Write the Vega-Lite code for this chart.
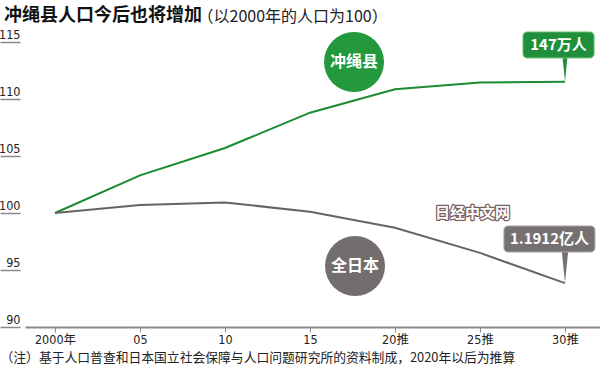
{
  "$schema": "https://vega.github.io/schema/vega-lite/v6.json",
  "width": 575,
  "height": 285,
  "autosize": "none",
  "padding": {"left": 25, "top": 42, "right": 0, "bottom": 41},
  "background": "white",
  "title": {
    "text": "冲绳县人口今后也将增加",
    "anchor": "start",
    "frame": "group",
    "font": "Noto Sans CJK SC",
    "fontSize": 18,
    "fontWeight": "bold",
    "color": "#111111",
    "dx": -21,
    "offset": 0,
    "dy": 31,
    "baseline": "alphabetic"
  },
  "config": {
    "view": {"stroke": null},
    "font": "Noto Sans CJK SC"
  },
  "datasets": {
    "pop": [
      {"year": 2000, "series": "冲绳县", "v": 100},
      {"year": 2005, "series": "冲绳县", "v": 103.3},
      {"year": 2010, "series": "冲绳县", "v": 105.7},
      {"year": 2015, "series": "冲绳县", "v": 108.8},
      {"year": 2020, "series": "冲绳县", "v": 110.85},
      {"year": 2025, "series": "冲绳县", "v": 111.45},
      {"year": 2030, "series": "冲绳县", "v": 111.52},
      {"year": 2000, "series": "全日本", "v": 100},
      {"year": 2005, "series": "全日本", "v": 100.7},
      {"year": 2010, "series": "全日本", "v": 100.93},
      {"year": 2015, "series": "全日本", "v": 100.1},
      {"year": 2020, "series": "全日本", "v": 98.7},
      {"year": 2025, "series": "全日本", "v": 96.5},
      {"year": 2030, "series": "全日本", "v": 93.85}
    ],
    "badges": [
      {"series": "冲绳县", "x": 2017.59, "y": 113.25, "label": "冲绳县"},
      {"series": "全日本", "x": 2017.65, "y": 95.35, "label": "全日本"}
    ],
    "callouts": [
      {"series": "冲绳县", "x1": 2027.53, "x2": 2031.71, "y1": 115.88, "y2": 113.6, "tx": 2029.62, "ty": 114.74, "label": "147万人"},
      {"series": "全日本", "x1": 2026.41, "x2": 2031.76, "y1": 98.86, "y2": 96.58, "tx": 2029.09, "ty": 97.72, "label": "1.1912亿人"}
    ],
    "mark": [
      {"x": 2024.56, "y": 100, "label": "日经中文网"}
    ]
  },
  "encoding": {
    "x": {
      "type": "quantitative",
      "scale": {"domain": [1998.235, 2032.06], "nice": false, "zero": false}
    },
    "y": {
      "type": "quantitative",
      "scale": {"domain": [90, 115], "nice": false, "zero": false}
    }
  },
  "layer": [
    {
      "mark": {"type": "rule", "color": "#8a8a8a", "strokeWidth": 1.5},
      "encoding": {"y": {"datum": 100}}
    },
    {
      "data": {"name": "pop"},
      "mark": {"type": "line", "strokeWidth": 2, "clip": false},
      "encoding": {
        "x": {
          "field": "year",
          "type": "quantitative",
          "axis": {
            "values": [2000, 2005, 2010, 2015, 2020, 2025, 2030],
            "labelExpr": "datum.value == 2000 ? '2000年' : (datum.value == 2005 ? '05' : (datum.value >= 2020 ? (datum.value - 2000) + '推' : '' + (datum.value - 2000)))",
            "grid": false,
            "domainColor": "#8a8a8a",
            "domainWidth": 2,
            "tickColor": "#8a8a8a",
            "tickWidth": 1,
            "tickSize": 5,
            "labelFont": "DejaVu Sans Condensed, Noto Sans CJK SC",
            "labelFontSize": 12.5,
            "labelColor": "#222222",
            "labelPadding": 1,
            "title": "（注）基于人口普查和日本国立社会保障与人口问题研究所的资料制成，2020年以后为推算",
            "titleFont": "Noto Sans CJK SC",
            "titleFontSize": 12.8,
            "titleFontWeight": "normal",
            "titleColor": "#222222",
            "titleAnchor": "start",
            "titleAlign": "left",
            "titleBaseline": "middle",
            "titleX": -25,
            "titleY": 30
          }
        },
        "y": {
          "field": "v",
          "type": "quantitative",
          "axis": {
            "values": [90, 95, 100, 105, 110, 115],
            "grid": false,
            "domain": false,
            "offset": 5,
            "tickColor": "#8a8a8a",
            "tickWidth": 1.5,
            "tickSize": 20,
            "labelAlign": "right",
            "labelBaseline": "bottom",
            "labelPadding": -20,
            "labelOffset": -1,
            "labelFont": "DejaVu Sans Condensed, Noto Sans CJK SC",
            "labelFontSize": 12.5,
            "labelColor": "#222222",
            "title": "（以2000年的人口为100）",
            "titleAngle": 0,
            "titleAlign": "left",
            "titleBaseline": "middle",
            "titleFont": "Noto Sans CJK SC",
            "titleFontSize": 16,
            "titleFontWeight": "normal",
            "titleColor": "#222222",
            "titleX": 177,
            "titleY": -26
          }
        },
        "color": {
          "field": "series",
          "type": "nominal",
          "scale": {"domain": ["冲绳县", "全日本"], "range": ["#1b8a30", "#676363"]},
          "legend": null
        }
      }
    },
    {
      "data": {"name": "badges"},
      "mark": {"type": "point", "shape": "circle", "filled": true, "opacity": 1, "size": 3600, "clip": false},
      "encoding": {
        "x": {"field": "x", "type": "quantitative"},
        "y": {"field": "y", "type": "quantitative"},
        "color": {
          "field": "series",
          "type": "nominal",
          "scale": {"domain": ["冲绳县", "全日本"], "range": ["#23983c", "#736e6d"]},
          "legend": null
        }
      }
    },
    {
      "data": {"name": "badges"},
      "mark": {"type": "text", "color": "white", "font": "Noto Sans CJK SC", "fontSize": 16, "fontWeight": "bold", "baseline": "middle", "align": "center"},
      "encoding": {
        "x": {"field": "x", "type": "quantitative"},
        "y": {"field": "y", "type": "quantitative"},
        "text": {"field": "label"}
      }
    },
    {
      "data": {"name": "pop"},
      "transform": [{"filter": "datum.year == 2030"}],
      "mark": {"type": "point", "shape": "M-0.1,-1 L0.1,-1 L0,0 Z", "filled": true, "opacity": 1, "size": 3844, "clip": false},
      "encoding": {
        "x": {"field": "year", "type": "quantitative"},
        "y": {"field": "v", "type": "quantitative"},
        "color": {
          "field": "series",
          "type": "nominal",
          "scale": {"domain": ["冲绳县", "全日本"], "range": ["#1f8f3b", "#767171"]},
          "legend": null
        }
      }
    },
    {
      "data": {"name": "callouts"},
      "mark": {"type": "rect", "cornerRadius": 4, "strokeWidth": 1, "clip": false},
      "encoding": {
        "x": {"field": "x1", "type": "quantitative"},
        "x2": {"field": "x2"},
        "y": {"field": "y1", "type": "quantitative"},
        "y2": {"field": "y2"},
        "fill": {
          "field": "series",
          "type": "nominal",
          "scale": {"domain": ["冲绳县", "全日本"], "range": ["#1f8f3b", "#767171"]},
          "legend": null
        },
        "stroke": {
          "field": "series",
          "type": "nominal",
          "scale": {"domain": ["冲绳县", "全日本"], "range": ["#6cbf78", "#a5a2a2"]},
          "legend": null
        }
      }
    },
    {
      "data": {"name": "callouts"},
      "mark": {"type": "text", "color": "white", "font": "Noto Sans CJK SC", "fontSize": 15, "fontWeight": "bold", "baseline": "middle", "align": "center"},
      "encoding": {
        "x": {"field": "tx", "type": "quantitative"},
        "y": {"field": "ty", "type": "quantitative"},
        "text": {"field": "label"}
      }
    },
    {
      "data": {"name": "mark"},
      "mark": {"type": "text", "color": "#7a5c5c", "stroke": "#7a5c5c", "strokeWidth": 2.5, "strokeJoin": "round", "font": "Noto Sans CJK SC", "fontSize": 15, "fontWeight": "bold", "baseline": "middle", "align": "center"},
      "encoding": {
        "x": {"field": "x", "type": "quantitative"},
        "y": {"field": "y", "type": "quantitative"},
        "text": {"field": "label"}
      }
    },
    {
      "data": {"name": "mark"},
      "mark": {"type": "text", "color": "white", "font": "Noto Sans CJK SC", "fontSize": 15, "fontWeight": "bold", "baseline": "middle", "align": "center"},
      "encoding": {
        "x": {"field": "x", "type": "quantitative"},
        "y": {"field": "y", "type": "quantitative"},
        "text": {"field": "label"}
      }
    }
  ],
  "resolve": {"scale": {"color": "independent", "fill": "independent", "stroke": "independent"}}
}
